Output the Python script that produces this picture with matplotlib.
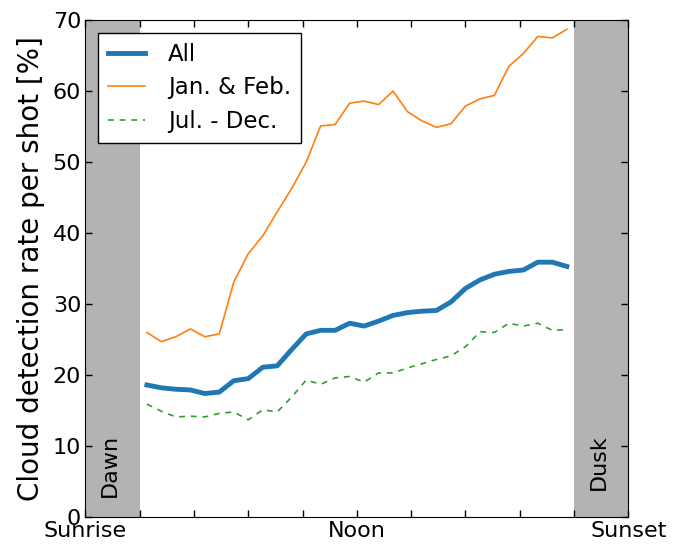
import numpy as np
import matplotlib
matplotlib.use("Agg")
import matplotlib.pyplot as plt

# bin centres between end of dawn (1) and start of dusk (9), 30 bins
n_bins = 30
x = 1 + (np.arange(n_bins) + 0.5) * 8.0 / n_bins

all_rate = [18.6, 18.2, 18.0, 17.9, 17.4, 17.6, 19.2, 19.5, 21.1, 21.3,
            23.6, 25.8, 26.3, 26.3, 27.3, 26.9, 27.6, 28.4, 28.8, 29.0,
            29.1, 30.3, 32.2, 33.4, 34.2, 34.6, 34.8, 35.9, 35.9, 35.3]
janfeb_rate = [26.0, 24.7, 25.4, 26.5, 25.4, 25.8, 33.1, 37.1, 39.6, 43.0,
               46.3, 50.0, 55.1, 55.3, 58.3, 58.6, 58.1, 60.0, 57.1, 55.8,
               54.9, 55.4, 57.9, 58.9, 59.4, 63.5, 65.3, 67.7, 67.5, 68.7]
juldec_rate = [15.9, 14.9, 14.1, 14.2, 14.1, 14.6, 14.8, 13.7, 15.1, 14.8,
               16.9, 19.3, 18.7, 19.6, 19.8, 19.0, 20.3, 20.3, 21.0, 21.6,
               22.2, 22.7, 24.0, 26.1, 26.0, 27.3, 26.9, 27.3, 26.3, 26.4]

xtick_pos = np.arange(0, 11)
xtick_labels = ['Sunrise', '', '', '', '', 'Noon', '', '', '', '', 'Sunset']

fig = plt.figure(figsize=(6.83, 5.44), dpi=100)
ax = fig.add_axes([0.125, 0.0496, 0.795, 0.9134])

ax.axvspan(0, 1, color='#b3b3b3', lw=0)
ax.axvspan(9, 10, color='#b3b3b3', lw=0)
ax.text(0.45, 7.3, 'Dawn', rotation=90, ha='center', va='center', fontsize=16)
ax.text(9.45, 7.8, 'Dusk', rotation=90, ha='center', va='center', fontsize=16)

ax.plot(x, all_rate, color='#1f77b4', lw=3.5, label='All')
ax.plot(x, janfeb_rate, color='#ff7f0e', lw=1.2, label='Jan. & Feb.')
ax.plot(x, juldec_rate, color='#2ca02c', lw=1.2, dashes=(3.5, 3.5), label='Jul. - Dec.')

ax.set_xlim(0, 10)
ax.set_ylim(0, 70)
ax.set_xticks(xtick_pos)
ax.set_xticklabels(xtick_labels)
ax.set_yticks(np.arange(0, 71, 10))
ax.tick_params(direction='in', top=True, right=True, labelsize=16, length=5, width=1, pad=3)
ax.set_ylabel('Cloud detection rate per shot [%]', fontsize=20)
ax.yaxis.set_label_coords(-0.075, 0.5)

leg = ax.legend(loc='upper left', fontsize=16.5, fancybox=False, edgecolor='black',
                borderaxespad=0.55, handlelength=1.6, handletextpad=1.0,
                labelspacing=0.45, borderpad=0.45, framealpha=1)
leg.get_frame().set_linewidth(1)

plt.savefig('out.png', dpi=100)
